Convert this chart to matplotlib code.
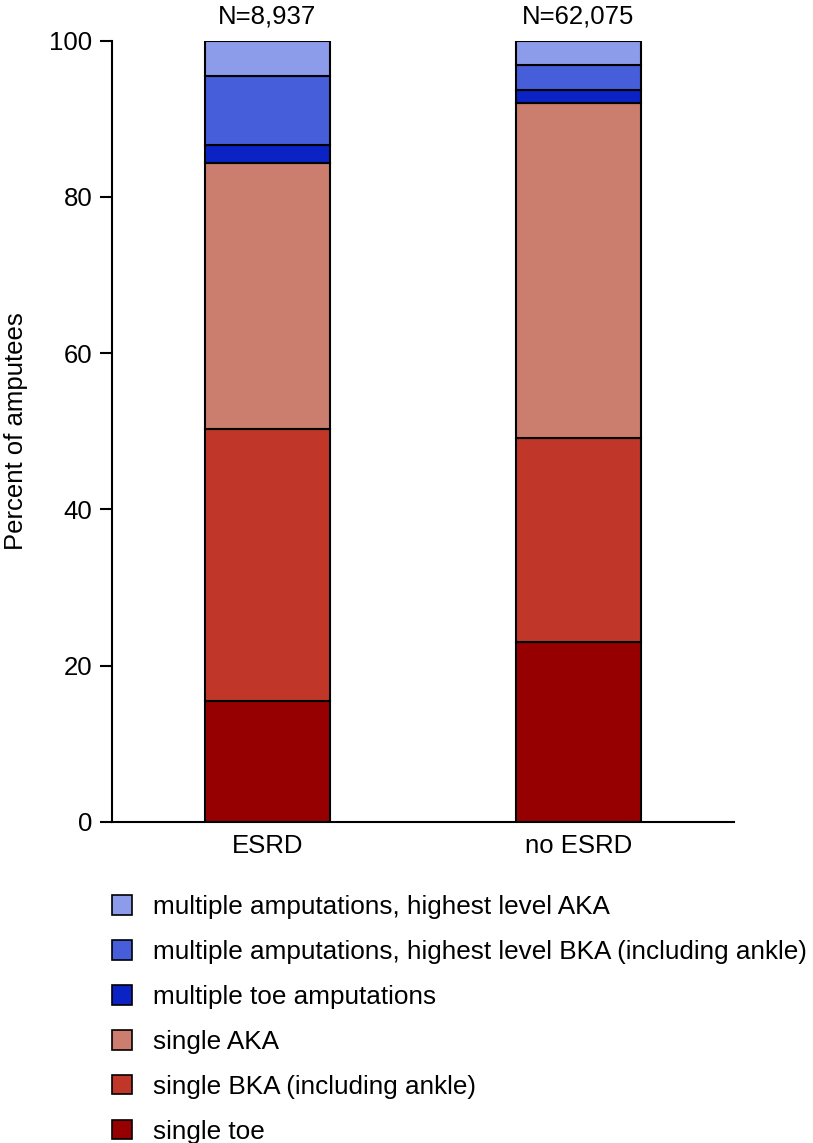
import numpy as np
import matplotlib
matplotlib.use('Agg')
import matplotlib.pyplot as plt
from matplotlib.patches import Patch

plt.rcParams['font.family'] = ['Liberation Sans', 'DejaVu Sans']

groups = ['ESRD', 'no ESRD']
n_labels = ['N=8,937', 'N=62,075']

# segments, bottom to top
categories = ['single toe', 'single BKA (including ankle)', 'single AKA',
              'multiple toe amputations',
              'multiple amputations, highest level BKA (including ankle)',
              'multiple amputations, highest level AKA']
esrd = [15.5, 34.8, 34.0, 2.3, 8.9, 4.5]
no_esrd = [23.0, 26.1, 42.9, 1.7, 3.2, 3.1]
colors = ['#960000', '#C0372A', '#CB7D6E', '#0B22C4', '#475EDB', '#8D9BEB']

fs = 18.5

fig = plt.figure(figsize=(8.13, 11.43), dpi=100)
ax = fig.add_axes([0.1374, 0.2811, 0.7654, 0.6833])

x = np.arange(len(groups))
vals = np.array([esrd, no_esrd]).T
bottom = np.zeros(len(groups))
for i, cat in enumerate(categories):
    ax.bar(x, vals[i], 0.4, bottom=bottom, color=colors[i],
           edgecolor='black', linewidth=1.5, label=cat)
    bottom += vals[i]

for xi, lab in zip(x, n_labels):
    ax.text(xi, 101.5, lab, ha='center', va='bottom', fontsize=fs)

ax.set_xlim(-0.5, 1.5)
ax.set_ylim(0, 100)
ax.set_yticks([0, 20, 40, 60, 80, 100])
ax.set_xticks(x)
ax.set_xticklabels(groups, fontsize=fs)
ax.tick_params(axis='y', labelsize=fs, length=9, width=1.5, pad=5)
ax.tick_params(axis='x', length=0, pad=9)
ax.spines['top'].set_visible(False)
ax.spines['right'].set_visible(False)
ax.spines['left'].set_linewidth(1.5)
ax.spines['bottom'].set_linewidth(1.5)
ax.set_ylabel('Percent of amputees', fontsize=fs, labelpad=15)

handles = [Patch(facecolor=c, edgecolor='black', linewidth=1.2) for c in colors]
fig.legend(handles[::-1], categories[::-1], loc='upper left',
           bbox_to_anchor=(0.1375, 0.2168), frameon=False, fontsize=18.8,
           handlelength=0.78, handleheight=0.78, handletextpad=0.78,
           labelspacing=0.8, borderpad=0, borderaxespad=0)

fig.savefig('out.png', dpi=100)
